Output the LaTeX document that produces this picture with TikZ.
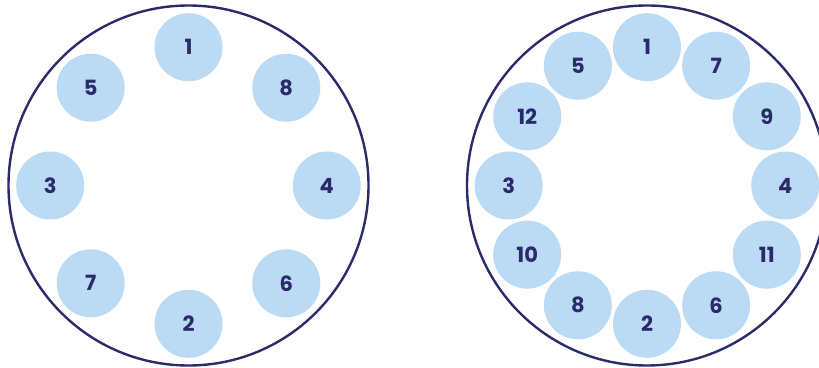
\documentclass[tikz,border=0pt]{standalone}
\usepackage{fontspec}
\setmainfont{Poppins}
\usetikzlibrary{calc}
\definecolor{navy}{HTML}{2B2B6B}
\definecolor{seat}{HTML}{BBDAF4}
\begin{document}
\begin{tikzpicture}[x=1pt,y=1pt,
  table/.style={draw=navy, line width=2.4pt, fill=white, circle, minimum size=360pt, inner sep=0pt},
  seat/.style={circle, fill=seat, minimum size=68pt, inner sep=0pt, text=navy, font=\fontsize{21}{21}\selectfont\bfseries}]
\useasboundingbox (0,0) rectangle (819,367);
\begin{scope}
\clip (0,0) rectangle (819,367);
\node[table] (L) at (188.5,181.5) {};
\node[table] (R) at (647,181.5) {};
\foreach \n/\a in {1/90,8/45,4/0,6/-45,2/-90,7/-135,3/180,5/135}
  \node[seat] (l\n) at ($(L)+(\a:138.3)$) {\n};
\foreach \n/\a in {1/90,7/60,9/30,4/0,11/-30,6/-60,2/-90,8/-120,10/-150,3/180,12/150,5/120}
  \node[seat] (r\n) at ($(R)+(\a:138.3)$) {\n};
\end{scope}
\end{tikzpicture}
\end{document}
